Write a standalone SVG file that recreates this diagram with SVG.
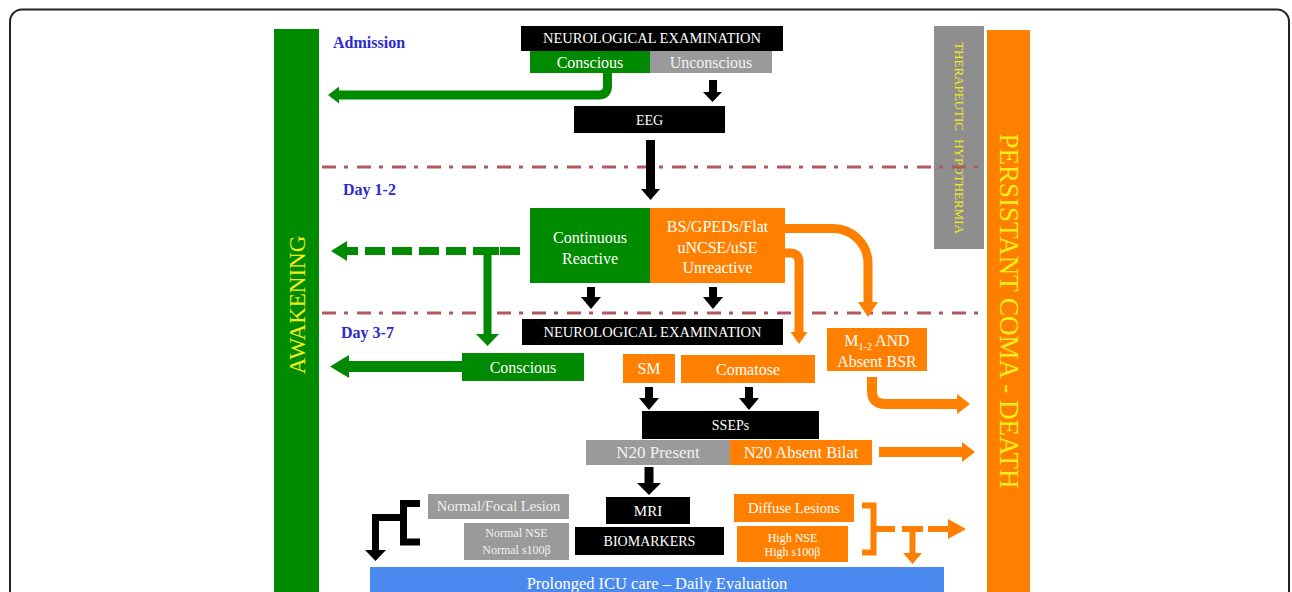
<svg xmlns="http://www.w3.org/2000/svg" width="1292" height="592" viewBox="0 0 1292 592">
<style>
text{font-family:"Liberation Serif","Times New Roman",serif;fill:#fff;text-anchor:middle}
.blk{fill:#000}.grn{fill:#008a00}.org{fill:#ff8000}.gry{fill:#9a9a9a}
.gt{fill:#f2f2f2}
.day{fill:#2a2ad0;font-weight:bold;font-size:16px;text-anchor:start}
.yl{fill:#eeee1a}
.dd{stroke:#b05a5a;stroke-width:3;stroke-dasharray:14 8 4 9;fill:none}
.sg{stroke:#008a00;fill:none}
.so{stroke:#ff8000;fill:none}
.sk{stroke:#000;fill:none}
.hg{fill:#008a00}.ho{fill:#ff8000}.hk{fill:#000}
</style>
<rect x="10" y="9.5" width="1279" height="620" rx="12" fill="#fff" stroke="#222" stroke-width="2"/>

<g id="awakening">
<rect class="grn" x="274" y="29" width="45" height="570"/>
<text class="yl" font-size="23" transform="translate(305,305) rotate(-90)">AWAKENING</text>
</g>
<g id="persistant-coma-death">
<rect class="org" x="987" y="30" width="43" height="570"/>
<text class="yl" font-size="27" transform="translate(999.5,311) rotate(90)">PERSISTANT COMA - DEATH</text>
</g>
<g id="therapeutic-hypothermia">
<rect fill="#8e8e8e" x="934" y="26" width="50" height="223"/>
<text class="yl" font-size="13" word-spacing="5" transform="translate(954.7,138) rotate(90)">THERAPEUTIC HYPOTHERMIA</text>
</g>

<g id="phase-lines">
<line class="dd" x1="322" y1="167" x2="982" y2="167"/>
<line class="dd" x1="322" y1="313" x2="982" y2="313"/>
</g>

<g id="labels">
<text class="day" x="333" y="48">Admission</text>
<text class="day" x="343" y="195">Day 1-2</text>
<text class="day" x="341" y="338">Day 3-7</text>
</g>

<g id="neuro-exam-1">
<rect class="blk" x="521" y="26" width="262" height="25"/>
<text x="652" y="43.3" font-size="14.5">NEUROLOGICAL EXAMINATION</text>
</g>
<g id="conscious-1">
<rect class="grn" x="530" y="51" width="120" height="22"/>
<text x="590" y="67.5" font-size="16">Conscious</text>
</g>
<g id="unconscious">
<rect class="gry" x="650" y="51" width="122" height="22"/>
<text class="gt" x="711" y="67.5" font-size="16">Unconscious</text>
</g>
<g id="eeg">
<rect class="blk" x="574" y="106" width="151" height="27"/>
<text x="649.5" y="124.5" font-size="14">EEG</text>
</g>
<g id="continuous-reactive">
<rect class="grn" x="530" y="208" width="120" height="75"/>
<text x="590" y="242.5" font-size="16">Continuous</text>
<text x="590" y="263.5" font-size="16">Reactive</text>
</g>
<g id="bs-gpeds">
<rect class="org" x="650" y="208" width="135" height="75"/>
<text x="717.5" y="232" font-size="16">BS/GPEDs/Flat</text>
<text x="717.5" y="252.5" font-size="16">uNCSE/uSE</text>
<text x="717.5" y="273" font-size="16">Unreactive</text>
</g>
<g id="neuro-exam-2">
<rect class="blk" x="522" y="319" width="261" height="26"/>
<text x="652.5" y="337" font-size="14.5">NEUROLOGICAL EXAMINATION</text>
</g>
<g id="conscious-2">
<rect class="grn" x="462" y="353" width="122" height="28"/>
<text x="523" y="372.5" font-size="16">Conscious</text>
</g>
<g id="sm">
<rect class="org" x="623" y="354" width="52" height="29"/>
<text x="649" y="374" font-size="16">SM</text>
</g>
<g id="comatose">
<rect class="org" x="681" y="355" width="134" height="28"/>
<text x="748" y="374.5" font-size="16">Comatose</text>
</g>
<g id="m12-absent-bsr">
<rect class="org" x="827" y="328" width="100" height="43"/>
<text x="877" y="345.5" font-size="16">M<tspan font-size="10" dy="4">1-2</tspan><tspan dy="-4"> AND</tspan></text>
<text x="877" y="367" font-size="16">Absent BSR</text>
</g>
<g id="sseps">
<rect class="blk" x="642" y="411" width="177" height="28"/>
<text x="730.5" y="429.5" font-size="14">SSEPs</text>
</g>
<g id="n20-present">
<rect class="gry" x="586" y="440" width="144" height="25"/>
<text class="gt" x="658" y="458.3" font-size="17">N20 Present</text>
</g>
<g id="n20-absent">
<rect class="org" x="730" y="440" width="142" height="25"/>
<text x="801" y="458.3" font-size="16.5">N20 Absent Bilat</text>
</g>
<g id="normal-focal">
<rect class="gry" x="428" y="494" width="141" height="25"/>
<text class="gt" x="498.5" y="511.3" font-size="14.5">Normal/Focal Lesion</text>
</g>
<g id="normal-nse">
<rect class="gry" x="464" y="523" width="105" height="37"/>
<text class="gt" x="516.5" y="537" font-size="12">Normal NSE</text>
<text class="gt" x="516.5" y="554" font-size="12">Normal s100β</text>
</g>
<g id="mri">
<rect class="blk" x="606" y="497" width="84" height="27"/>
<text x="648" y="515.5" font-size="15">MRI</text>
</g>
<g id="biomarkers">
<rect class="blk" x="575" y="527" width="149" height="28"/>
<text x="649.5" y="546" font-size="14">BIOMARKERS</text>
</g>
<g id="diffuse-lesions">
<rect class="org" x="734" y="494" width="120" height="28"/>
<text x="794" y="513" font-size="14.5">Diffuse Lesions</text>
</g>
<g id="high-nse">
<rect class="org" x="737" y="526" width="111" height="36"/>
<text x="792.5" y="542" font-size="12">High NSE</text>
<text x="792.5" y="556" font-size="12">High s100β</text>
</g>
<g id="prolonged-icu">
<rect fill="#4a8af0" x="370" y="567" width="574" height="40"/>
<text x="657" y="588.5" font-size="16.5">Prolonged ICU care – Daily Evaluation</text>
</g>

<g id="connectors">
<path class="sg" stroke-width="9" d="M607.5 73 V86 Q607.5 95 598.5 95 H338"/>
<polygon class="hg" points="328,95 339,86.5 339,103.5"/>

<rect class="hk" x="709" y="80" width="8" height="13"/>
<polygon class="hk" points="703,92 722,92 712.5,102"/>

<rect class="hk" x="646" y="140" width="9" height="50"/>
<polygon class="hk" points="641,189 660,189 650.5,200"/>

<line class="sg" stroke-width="8" stroke-dasharray="20 7" x1="520" y1="251" x2="345" y2="251"/>
<polygon class="hg" points="331,251 347,241 347,261"/>

<rect class="hg" x="477" y="247" width="22" height="8"/>
<rect class="hg" x="483.5" y="255" width="8" height="80"/>
<polygon class="hg" points="476,334 499,334 487.5,346"/>

<rect class="hk" x="587" y="287" width="8" height="11"/>
<polygon class="hk" points="581,297 601,297 591,309"/>
<rect class="hk" x="709" y="287" width="8" height="11"/>
<polygon class="hk" points="703,297 723,297 713,309"/>

<path class="so" stroke-width="9" d="M785 228.5 H833 A35 35 0 0 1 868 263.5 V303"/>
<polygon class="ho" points="858,302 878,302 868,317"/>

<path class="so" stroke-width="9" d="M785 253 H790 Q799 253 799 262 V333"/>
<polygon class="ho" points="790.5,332 807.5,332 799,344"/>

<path class="so" stroke-width="10" d="M872 377 V391 Q872 404 885 404 H958"/>
<polygon class="ho" points="957,394 957,414 970,404"/>

<line class="so" stroke-width="10" x1="879" y1="452" x2="963" y2="452"/>
<polygon class="ho" points="962,442 962,462 975,452"/>

<line class="sg" stroke-width="11" x1="462" y1="366.5" x2="347" y2="366.5"/>
<polygon class="hg" points="330,366.5 349,355 349,378"/>

<rect class="hk" x="645" y="387" width="8" height="12"/>
<polygon class="hk" points="639,398 659,398 649,410"/>
<rect class="hk" x="745" y="387" width="8" height="12"/>
<polygon class="hk" points="739,398 759,398 749,410"/>

<rect class="hk" x="644.5" y="467" width="9" height="17"/>
<polygon class="hk" points="637,483 661,483 649,495"/>

<path class="sk" stroke-width="7" d="M420 503.5 H403.5 V542 H420"/>
<path class="sk" stroke-width="7" d="M403.5 517.5 H375.5 V551"/>
<polygon class="hk" points="365,550 386,550 375.5,561"/>

<path class="so" stroke-width="6" d="M862 505.5 H873.5 V552.5 H862"/>
<line class="so" stroke-width="6" x1="873.5" y1="529" x2="895" y2="529"/>
<line class="so" stroke-width="6" x1="902" y1="529" x2="923" y2="529"/>
<line class="so" stroke-width="6" x1="912.5" y1="529" x2="912.5" y2="554"/>
<polygon class="ho" points="903,553 922,553 912.5,564"/>
<line class="so" stroke-width="6" x1="928" y1="529" x2="950" y2="529"/>
<polygon class="ho" points="948,519 948,539 966,529"/>
</g>
</svg>
